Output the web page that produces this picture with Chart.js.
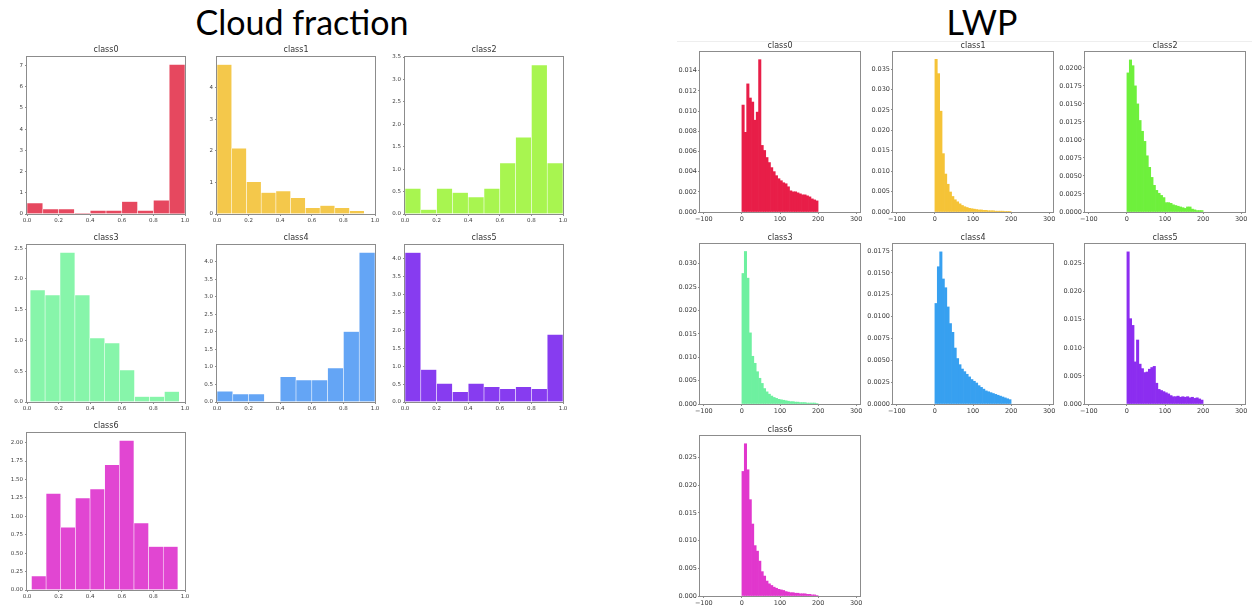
<!DOCTYPE html>
<html>
<head>
<meta charset="utf-8">
<script src="https://cdn.jsdelivr.net/npm/chart.js@4.4.1/dist/chart.umd.min.js"></script>
<style>
  body { margin: 0; background: #fff; width: 1252px; height: 606px; position: relative; overflow: hidden; }
  .heading { position: absolute; font-family: Lato, "Open Sans", sans-serif; font-size: 34px; line-height: 34px; color: #000; transform: translateX(-50%); white-space: nowrap; }
  canvas { position: absolute; }
</style>
</head>
<body>
<div class="heading" style="left:302px; top:5px">Cloud fraction</div>
<div class="heading" style="left:982px; top:5px">LWP</div>
<div style="position:absolute; left:677px; top:41px; width:575px; height:1px; background:#eeeeee"></div>
<script>
const classNames = ['class0', 'class1', 'class2', 'class3', 'class4', 'class5', 'class6'];

// x tick labels
const cfTicksX = [0, 0.2, 0.4, 0.6, 0.8, 1.0];
const lwpTicksX = [-100, 0, 100, 200, 300];

// cloud fraction: bin centres
const cfCentersEven = [0.05, 0.15, 0.25, 0.35, 0.45, 0.55, 0.65, 0.75, 0.85, 0.95];
const cfCentersClass1 = [0.0466, 0.1398, 0.2330, 0.3262, 0.4194, 0.5126, 0.6058, 0.6990, 0.7922, 0.8854];
const cfCentersClass3 = [0.0672, 0.1616, 0.2560, 0.3504, 0.4448, 0.5392, 0.6336, 0.7280, 0.8224, 0.9168];
const cfCentersClass6 = [0.0744, 0.1671, 0.2598, 0.3525, 0.4452, 0.5379, 0.6306, 0.7233, 0.8160, 0.9087];

// cloud fraction: densities
const cfClass0 = [0.52, 0.24, 0.24, 0.05, 0.17, 0.17, 0.59, 0.17, 0.65, 7.05];
const cfClass1 = [4.74, 2.09, 1.02, 0.68, 0.73, 0.52, 0.20, 0.27, 0.20, 0.10];
const cfClass2 = [0.57, 0.10, 0.57, 0.48, 0.38, 0.57, 1.14, 1.71, 3.32, 1.14];
const cfClass3 = [1.82, 1.74, 2.43, 1.74, 1.04, 0.96, 0.52, 0.09, 0.09, 0.17];
const cfClass4 = [0.31, 0.23, 0.23, 0, 0.72, 0.63, 0.63, 0.97, 2.01, 4.27];
const cfClass5 = [4.18, 0.91, 0.52, 0.29, 0.52, 0.43, 0.37, 0.43, 0.37, 1.89];
const cfClass6 = [0.19, 1.31, 0.85, 1.25, 1.37, 1.70, 2.03, 0.91, 0.59, 0.59];

const cfYMax = [7.4, 4.98, 3.5, 2.55, 4.48, 4.39, 2.13];
const cfYStep = [1, 1, 0.5, 0.5, 0.5, 0.5, 0.25];
const cfYDec = [0, 0, 1, 1, 1, 1, 2];

// LWP: bin centres (0..200, 32 bins)
const lwpCenters = [3.125, 9.375, 15.625, 21.875, 28.125, 34.375, 40.625, 46.875,
  53.125, 59.375, 65.625, 71.875, 78.125, 84.375, 90.625, 96.875,
  103.125, 109.375, 115.625, 121.875, 128.125, 134.375, 140.625, 146.875,
  153.125, 159.375, 165.625, 171.875, 178.125, 184.375, 190.625, 196.875];

const lwpClass0 = [0.0106, 0.0079, 0.0127, 0.0113, 0.0109, 0.0091, 0.0099, 0.0151, 0.0066, 0.0061, 0.0054, 0.0049, 0.0044, 0.0040, 0.0036, 0.0033,
  0.0031, 0.0029, 0.0028, 0.0025, 0.0021, 0.0020, 0.0020, 0.0019, 0.0018, 0.0017, 0.0017, 0.0016, 0.0015, 0.0013, 0.0012, 0.0011];
const lwpClass1 = [0.0374, 0.0339, 0.0247, 0.0143, 0.0093, 0.0068, 0.0049, 0.0038, 0.0030, 0.0025, 0.0020, 0.0016, 0.0013, 0.0011, 0.0009, 0.0008,
  0.0007, 0.0006, 0.0005, 0.0005, 0.0004, 0.0004, 0.0003, 0.0003, 0.0003, 0.0002, 0.0002, 0.0002, 0.0002, 0.0001, 0.0001, 0.0001];
const lwpClass2 = [0.0193, 0.0211, 0.0203, 0.0175, 0.0150, 0.0127, 0.0112, 0.0098, 0.0078, 0.0062, 0.0048, 0.0037, 0.0030, 0.0026, 0.0023, 0.0020,
  0.0013, 0.0013, 0.0012, 0.0010, 0.0009, 0.0008, 0.0007, 0.0006, 0.0005, 0.0007, 0.0007, 0.0004, 0.0003, 0.0002, 0.0002, 0.0002];
const lwpClass3 = [0.0279, 0.0326, 0.0269, 0.0152, 0.0102, 0.0087, 0.0069, 0.0055, 0.0044, 0.0033, 0.0026, 0.0021, 0.0017, 0.0014, 0.0012, 0.0010,
  0.0009, 0.0008, 0.0007, 0.0006, 0.0005, 0.0005, 0.0004, 0.0004, 0.0003, 0.0003, 0.0003, 0.0002, 0.0002, 0.0002, 0.0002, 0.0001];
const lwpClass4 = [0.0115, 0.0157, 0.0174, 0.0143, 0.0133, 0.0111, 0.0092, 0.0082, 0.0064, 0.0052, 0.0045, 0.0040, 0.0037, 0.0034, 0.0031, 0.0028,
  0.0026, 0.0024, 0.0021, 0.0019, 0.0017, 0.0015, 0.0014, 0.0013, 0.0012, 0.0011, 0.0010, 0.0009, 0.0008, 0.0007, 0.0006, 0.0005];
const lwpClass5 = [0.0271, 0.0152, 0.0140, 0.0075, 0.0114, 0.0071, 0.0063, 0.0056, 0.0057, 0.0062, 0.0065, 0.0067, 0.0037, 0.0026, 0.0024, 0.0022,
  0.0020, 0.0018, 0.0015, 0.0013, 0.0013, 0.0014, 0.0012, 0.0013, 0.0012, 0.0013, 0.0011, 0.0012, 0.0010, 0.0011, 0.0009, 0.0007];
const lwpClass6 = [0.0225, 0.0275, 0.0228, 0.0174, 0.0130, 0.0091, 0.0081, 0.0063, 0.0044, 0.0036, 0.0027, 0.0022, 0.0019, 0.0016, 0.0014, 0.0012,
  0.0011, 0.0010, 0.0008, 0.0007, 0.0006, 0.0006, 0.0005, 0.0005, 0.0004, 0.0004, 0.0004, 0.0003, 0.0003, 0.0002, 0.0002, 0.0001];

const lwpYMax = [0.01586, 0.0392, 0.0222, 0.0342, 0.0183, 0.0285, 0.0289];
const lwpYStep = [0.002, 0.005, 0.0025, 0.005, 0.0025, 0.005, 0.005];
const lwpYDec = [3, 3, 4, 3, 4, 3, 3];

const cfColors = ['#e6485f', '#f4c84b', '#a8f550', '#87f5aa', '#64a5f5', '#873cf0', '#e146d2'];
const lwpColors = ['#e81e48', '#f5c337', '#6ef03c', '#6ef0a0', '#37a0f0', '#8c2df0', '#e137cd'];

// plot-area placement (left, top) of each panel
const cfPos = [[27, 57], [217, 57], [405, 57], [27, 245], [217, 245], [405, 245], [27, 433]];
const lwpPos = [[700, 52], [893, 52], [1085, 52], [700, 244], [893, 244], [1085, 244], [700, 436]];

const frameColor = '#8c8c8c';
const labelColor = '#3c3c3c';
const fontFamily = '"DejaVu Sans", Verdana, sans-serif';

const boxFrame = {
    id: 'boxFrame',
    afterDatasetsDraw(chart) {
        const a = chart.chartArea;
        const ctx = chart.ctx;
        ctx.save();
        ctx.strokeStyle = frameColor;
        ctx.lineWidth = 1;
        ctx.strokeRect(Math.round(a.left) - 0.5, Math.round(a.top) - 0.5,
            Math.round(a.right - a.left) + 1, Math.round(a.bottom - a.top) + 1);
        ctx.restore();
    }
};

function stepTicks(max, step) {
    const out = [];
    for (let i = 0; i * step <= max + 1e-9; i++) {
        out.push(Math.round(i * step * 1e6) / 1e6);
    }
    return out;
}

function drawPanel(p) {
    const YW = 34, TH = 20, XH = 16, RP = 14;
    const W = p.w + YW + RP;
    const H = p.h + TH + XH;
    const canvas = document.createElement('canvas');
    canvas.width = W;
    canvas.height = H;
    canvas.style.left = (p.left - YW) + 'px';
    canvas.style.top = (p.top - TH) + 'px';
    canvas.style.width = W + 'px';
    canvas.style.height = H + 'px';
    document.body.appendChild(canvas);

    const lineH = p.titleSize * 1.2;
    const yTicks = stepTicks(p.yMax, p.yStep);

    new Chart(canvas, {
        type: 'bar',
        data: {
            datasets: [{
                data: p.centers.map((c, i) => ({ x: c, y: p.values[i] })),
                backgroundColor: p.color,
                borderColor: 'rgba(255, 255, 255, 0.35)',
                borderWidth: p.borderWidth,
                borderSkipped: 'start',
                barPercentage: 1,
                categoryPercentage: 1
            }]
        },
        options: {
            responsive: false,
            animation: false,
            events: [],
            layout: { padding: { left: 0, right: RP, top: 0, bottom: 0 } },
            scales: {
                x: {
                    type: 'linear',
                    min: p.xMin,
                    max: p.xMax,
                    offset: false,
                    afterFit: s => { s.height = XH; },
                    afterBuildTicks: s => { s.ticks = p.xTicks.map(v => ({ value: v })); },
                    ticks: {
                        font: { family: fontFamily, size: p.tickSize },
                        color: labelColor,
                        padding: p.xPad,
                        maxRotation: 0,
                        autoSkip: false,
                        callback: p.xFmt
                    },
                    grid: { display: true, drawOnChartArea: false, drawTicks: true, tickLength: 2, color: frameColor, offset: false },
                    border: { display: false }
                },
                y: {
                    type: 'linear',
                    min: 0,
                    max: p.yMax,
                    afterFit: s => { s.width = YW; },
                    afterBuildTicks: s => { s.ticks = yTicks.map(v => ({ value: v })); },
                    ticks: {
                        font: { family: fontFamily, size: p.tickSize },
                        color: labelColor,
                        padding: p.yPad,
                        callback: v => v.toFixed(p.yDec)
                    },
                    grid: { display: true, drawOnChartArea: false, drawTicks: true, tickLength: 2, color: frameColor },
                    border: { display: false }
                }
            },
            plugins: {
                legend: { display: false },
                tooltip: { enabled: false },
                title: {
                    display: true,
                    text: p.title,
                    fullSize: false,
                    color: '#333',
                    font: { family: fontFamily, size: p.titleSize, weight: 'normal' },
                    padding: { top: TH - lineH - p.titleGap, bottom: p.titleGap }
                }
            }
        },
        plugins: [boxFrame]
    });
}

const cfCenters = [cfCentersEven, cfCentersClass1, cfCentersEven, cfCentersClass3, cfCentersEven, cfCentersEven, cfCentersClass6];
const cfValues = [cfClass0, cfClass1, cfClass2, cfClass3, cfClass4, cfClass5, cfClass6];
const lwpValues = [lwpClass0, lwpClass1, lwpClass2, lwpClass3, lwpClass4, lwpClass5, lwpClass6];

classNames.forEach((name, i) => {
    drawPanel({
        left: cfPos[i][0], top: cfPos[i][1], w: 158, h: 157,
        centers: cfCenters[i], values: cfValues[i], color: cfColors[i],
        xMin: 0, xMax: 1, xTicks: cfTicksX, xFmt: v => v.toFixed(1),
        yMax: cfYMax[i], yStep: cfYStep[i], yDec: cfYDec[i],
        title: name, titleSize: 8, titleGap: 2, tickSize: 5.5,
        xPad: 1, yPad: 2, borderWidth: 0.6
    });
});

classNames.forEach((name, i) => {
    drawPanel({
        left: lwpPos[i][0], top: lwpPos[i][1], w: 160, h: 160,
        centers: lwpCenters, values: lwpValues[i], color: lwpColors[i],
        xMin: -110, xMax: 310, xTicks: lwpTicksX,
        xFmt: v => (v < 0 ? '\u2212' + Math.abs(v) : String(v)),
        yMax: lwpYMax[i], yStep: lwpYStep[i], yDec: lwpYDec[i],
        title: name, titleSize: 8, titleGap: 1.5, tickSize: 6.5,
        xPad: 1, yPad: 1, borderWidth: 0
    });
});
</script>
</body>
</html>
